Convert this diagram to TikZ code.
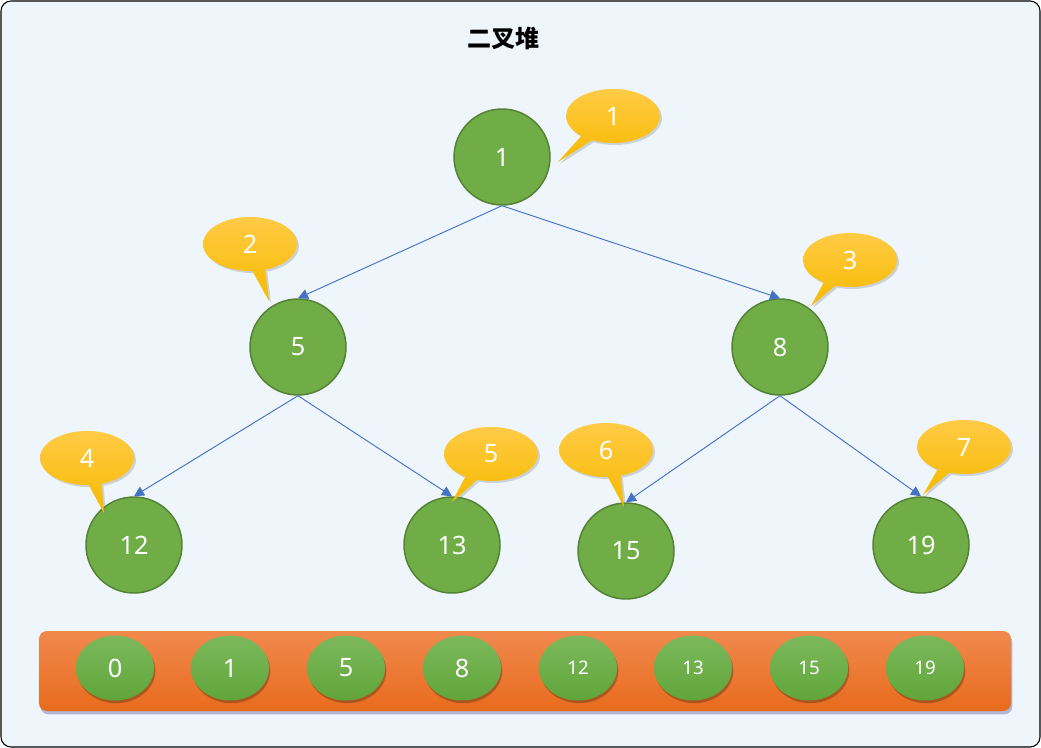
\documentclass[tikz,border=0pt]{standalone}
\usepackage{fontspec}
\setmainfont{Noto Sans}
\newfontfamily\cjk{Noto Sans CJK SC}
\usetikzlibrary{shapes.callouts,shapes.geometric,shadows,arrows.meta}
\definecolor{bg}{HTML}{EEF5FB}
\definecolor{treefill}{HTML}{70AD47}
\definecolor{treeline}{HTML}{548235}
\definecolor{edgeblue}{HTML}{4472C4}
\definecolor{calltop}{HTML}{FFCB45}
\definecolor{callbot}{HTML}{F7BA00}
\definecolor{bartop}{HTML}{F0894E}
\definecolor{barbot}{HTML}{E86B1C}
\definecolor{celltop}{HTML}{7DB95C}
\definecolor{cellbot}{HTML}{60A53A}
\begin{document}
\begin{tikzpicture}[x=0.75pt,y=-0.75pt,
  treenode/.style={circle, minimum size=72pt, inner sep=0pt, fill=treefill, draw=treeline, line width=1.1pt, text=white, font=\fontsize{19}{21}\selectfont},
  edge/.style={draw=edgeblue, line width=0.7pt, -{Triangle[length=7.5pt,width=7.5pt]}},
  bubble/.style={ellipse callout, minimum width=70.5pt, minimum height=40.5pt, inner sep=0pt, callout pointer arc=16,
    top color=calltop, bottom color=callbot, text=white, font=\fontsize{19}{21}\selectfont,
    drop shadow={opacity=0.3, shadow xshift=1.5pt, shadow yshift=-1.5pt}},
  cell/.style={ellipse, minimum width=58.5pt, minimum height=48.75pt, inner sep=0pt, top color=celltop, bottom color=cellbot, text=white,
    drop shadow={fill=black!70!brown, opacity=0.35, shadow xshift=1pt, shadow yshift=-2pt}},
  bigtxt/.style={font=\fontsize{19}{21}\selectfont},
  smalltxt/.style={font=\fontsize{14}{16}\selectfont}
]
\useasboundingbox (0,0) rectangle (1041,748);
\draw[fill=bg, draw=black, line width=0.8pt, rounded corners=7.5pt] (1,1) rectangle (1040,747);
\node[font=\cjk\bfseries\fontsize{18}{20}\selectfont] (title) at (503,38) {二叉堆};

% tree nodes
\node[treenode] (n1) at (502,157) {1};
\node[treenode] (n5) at (298,347) {5};
\node[treenode] (n8) at (780,347) {8};
\node[treenode] (n12) at (134,545) {12};
\node[treenode] (n13) at (452,545) {13};
\node[treenode] (n15) at (626,551) {15};
\node[treenode] (n19) at (921,545) {19};

% edges
\draw[edge] (n1.south) -- (n5.north);
\draw[edge] (n1.south) -- (n8.north);
\draw[edge] (n5.south) -- (n12.north);
\draw[edge] (n5.south) -- (n13.north);
\draw[edge] (n8.south) -- (n15.north);
\draw[edge] (n8.south) -- (n19.north);

% callouts
\node[bubble, callout absolute pointer={(558,162)}] (c1) at (613,116) {1};
\node[bubble, callout absolute pointer={(269,301)}] (c2) at (250,244) {2};
\node[bubble, callout absolute pointer={(811,306)}] (c3) at (850,260) {3};
\node[bubble, callout absolute pointer={(104,513)}] (c4) at (87,458) {4};
\node[bubble, callout absolute pointer={(452,502)}] (c5) at (491,454) {5};
\node[bubble, callout absolute pointer={(624,507)}] (c6) at (606,450) {6};
\node[bubble, callout absolute pointer={(923,495)}] (c7) at (964,447) {7};

% array bar
\node[rectangle, rounded corners=6pt, minimum width=729pt, minimum height=60pt, top color=bartop, bottom color=barbot,
  drop shadow={fill=black!60!blue, opacity=0.25, shadow xshift=1pt, shadow yshift=-2.5pt}] (bar) at (525,671) {};
\node[cell, bigtxt] (a0) at (115,668) {0};
\node[cell, bigtxt] (a1) at (230,668) {1};
\node[cell, bigtxt] (a2) at (346,668) {5};
\node[cell, bigtxt] (a3) at (462,668) {8};
\node[cell, smalltxt] (a4) at (578,668) {12};
\node[cell, smalltxt] (a5) at (693,668) {13};
\node[cell, smalltxt] (a6) at (809,668) {15};
\node[cell, smalltxt] (a7) at (925,668) {19};
\end{tikzpicture}
\end{document}
